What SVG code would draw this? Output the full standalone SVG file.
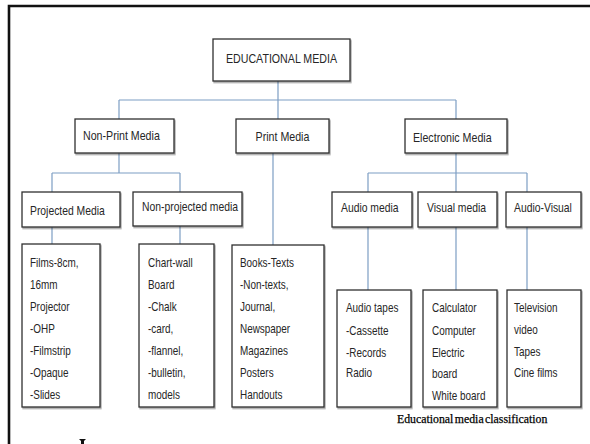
<svg xmlns="http://www.w3.org/2000/svg" width="590" height="444" viewBox="0 0 590 444">
<defs>
<filter id="sh" x="-5%" y="-5%" width="115%" height="115%"><feDropShadow dx="1" dy="1.5" stdDeviation="0.6" flood-color="#000" flood-opacity="0.35"/></filter>
</defs>
<style>
.box{fill:#fff;stroke:#2e2e2e;stroke-width:1.3;filter:url(#sh)}
.t{font-family:"Liberation Sans",Arial,sans-serif;fill:#262626}
.l1{font-size:13.3px}
.l2{font-size:12.8px}
.l3{font-size:12.4px}
.conn{stroke:#7d9ec4;stroke-width:1.2;fill:none}
.cap{font-family:"Liberation Serif","Times New Roman",serif;font-size:11.8px;fill:#000;stroke:#000;stroke-width:0.25;word-spacing:-1.5px}
</style>
<rect width="590" height="444" fill="#fff"/>
<g id="frame">
<path d="M9,444 V6 H590" fill="none" stroke="#111" stroke-width="2.6"/>
<polygon points="79,439 86,439 84,441 84,444 81,444 81,441" fill="#111"/>
</g>
<g id="connectors">
<path class="conn" d="M278,81 V119 M119,100 H456 M119,100 V119 M456,100 V119"/>
<path class="conn" d="M119,153 V173 M52,173 H180 M52,173 V192 M180,173 V192"/>
<path class="conn" d="M52,227 V244 M180,226 V244 M273,153 V245"/>
<path class="conn" d="M456,153 V173 M368,173 H527 M368,173 V192 M456,173 V192 M527,173 V192"/>
<path class="conn" d="M368,227 V290 M456,227 V290 M527,227 V290"/>
</g>
<g id="educational-media"><rect class="box" x="213" y="39" width="137" height="42"/><text class="t l1" transform="translate(281.5,63) scale(0.8,1)" text-anchor="middle">EDUCATIONAL MEDIA</text></g>
<g id="non-print-media"><rect class="box" x="75" y="119" width="99" height="34"/><text class="t l1" transform="translate(83,140) scale(0.8,1)">Non-Print Media</text></g>
<g id="print-media"><rect class="box" x="236" y="119" width="93" height="34"/><text class="t l1" transform="translate(282.5,141) scale(0.8,1)" text-anchor="middle" font-size="14.5">Print Media</text></g>
<g id="electronic-media"><rect class="box" x="405" y="119" width="102" height="34"/><text class="t l1" transform="translate(413,142) scale(0.8,1)">Electronic Media</text></g>
<g id="projected-media"><rect class="box" x="22" y="192" width="98" height="35"/><text class="t l2" transform="translate(30,215) scale(0.81,1)">Projected Media</text></g>
<g id="non-projected-media"><rect class="box" x="133" y="192" width="109" height="34"/><text class="t l2" transform="translate(142,211) scale(0.81,1)">Non-projected media</text></g>
<g id="audio-media"><rect class="box" x="332" y="192" width="80" height="35"/><text class="t l2" transform="translate(341,212) scale(0.81,1)">Audio media</text></g>
<g id="visual-media"><rect class="box" x="418" y="192" width="79" height="35"/><text class="t l2" transform="translate(427,212) scale(0.81,1)">Visual media</text></g>
<g id="audio-visual"><rect class="box" x="506" y="192" width="75" height="35"/><text class="t l2" transform="translate(514,212) scale(0.81,1)">Audio-Visual</text></g>
<g id="projected-list"><rect class="box" x="22" y="244" width="78" height="163"/>
<text class="t l3" transform="translate(30,0) scale(0.8,1)"><tspan x="0" y="267">Films-8cm,</tspan><tspan x="0" y="289">16mm</tspan><tspan x="0" y="311">Projector</tspan><tspan x="0" y="333">-OHP</tspan><tspan x="0" y="355">-Filmstrip</tspan><tspan x="0" y="377">-Opaque</tspan><tspan x="0" y="399">-Slides</tspan></text></g>
<g id="non-projected-list"><rect class="box" x="139" y="244" width="75" height="163"/>
<text class="t l3" transform="translate(148,0) scale(0.8,1)"><tspan x="0" y="267">Chart-wall</tspan><tspan x="0" y="289">Board</tspan><tspan x="0" y="311">-Chalk</tspan><tspan x="0" y="333">-card,</tspan><tspan x="0" y="355">-flannel,</tspan><tspan x="0" y="377">-bulletin,</tspan><tspan x="0" y="399">models</tspan></text></g>
<g id="print-list"><rect class="box" x="232" y="245" width="92" height="162"/>
<text class="t l3" transform="translate(240,0) scale(0.8,1)"><tspan x="0" y="267">Books-Texts</tspan><tspan x="0" y="289">-Non-texts,</tspan><tspan x="0" y="311">Journal,</tspan><tspan x="0" y="333">Newspaper</tspan><tspan x="0" y="355">Magazines</tspan><tspan x="0" y="377">Posters</tspan><tspan x="0" y="399">Handouts</tspan></text></g>
<g id="audio-list"><rect class="box" x="337" y="290" width="74" height="117"/>
<text class="t l3" transform="translate(346,0) scale(0.8,1)"><tspan x="0" y="312">Audio tapes</tspan><tspan x="0" y="335">-Cassette</tspan><tspan x="0" y="357">-Records</tspan><tspan x="0" y="377">Radio</tspan></text></g>
<g id="visual-list"><rect class="box" x="423" y="290" width="74" height="117"/>
<text class="t l3" transform="translate(432,0) scale(0.8,1)"><tspan x="0" y="312">Calculator</tspan><tspan x="0" y="335">Computer</tspan><tspan x="0" y="357">Electric</tspan><tspan x="0" y="378">board</tspan><tspan x="0" y="400">White board</tspan></text></g>
<g id="audio-visual-list"><rect class="box" x="507" y="290" width="74" height="117"/>
<text class="t l3" transform="translate(514,0) scale(0.8,1)"><tspan x="0" y="312">Television</tspan><tspan x="0" y="334">video</tspan><tspan x="0" y="356">Tapes</tspan><tspan x="0" y="377">Cine films</tspan></text></g>
<text class="cap" x="397" y="423">Educational media classification</text>
</svg>
